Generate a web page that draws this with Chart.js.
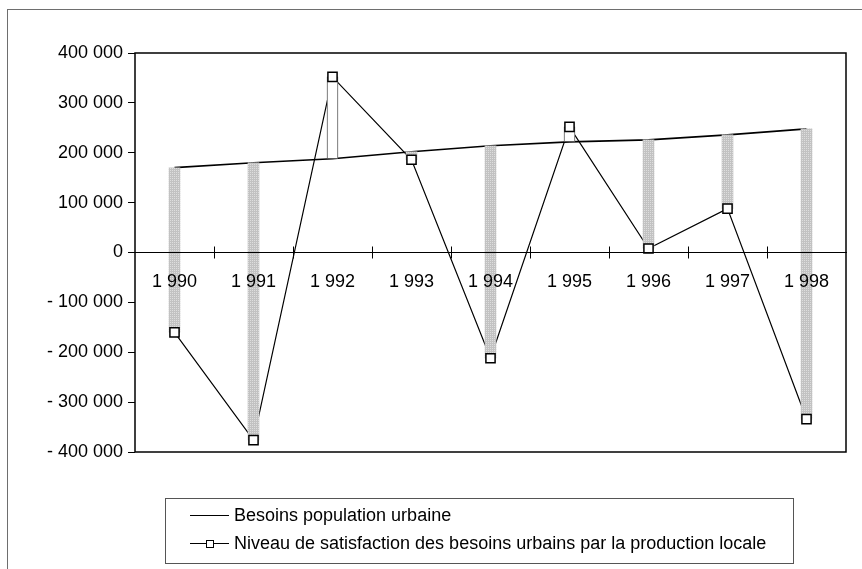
<!DOCTYPE html>
<html>
<head>
<meta charset="utf-8">
<script src="https://cdn.jsdelivr.net/npm/chart.js@4"></script>
<style>
    body { margin: 0; background: #fff; font-family: "Liberation Sans", Arial, sans-serif; }
    #frame { position: absolute; left: 7px; top: 9px; width: 900px; height: 600px;
             border-left: 1px solid #6e6e6e; border-top: 1px solid #6e6e6e; }
    #wrap { position: absolute; left: 0; top: 0; width: 862px; height: 569px; }
    #legend { position: absolute; left: 165px; top: 498px; width: 627px; height: 64px;
              border: 1px solid #555; font-size: 18px; color: #000; }
    .row { position: absolute; left: 24px; height: 20px; line-height: 20px; white-space: nowrap; }
    .sym { position: absolute; left: 0; top: 10px; width: 39px; border-top: 1.5px solid #000; }
    .sq { position: absolute; left: 16px; top: -4px; width: 6px; height: 6px; background: #fff; border: 1px solid #000; }
    .txt { position: absolute; left: 44px; top: 0; }
</style>
</head>
<body>
<div id="frame"></div>
<div id="wrap"><canvas id="chart"></canvas></div>
<div id="legend">
    <div class="row" style="top:6px"><span class="sym"></span><span class="txt">Besoins population urbaine</span></div>
    <div class="row" style="top:34px"><span class="sym"><span class="sq"></span></span><span class="txt">Niveau de satisfaction des besoins urbains par la production locale</span></div>
</div>
<script>
// categories (years as printed on the axis)
const years = ['1 990', '1 991', '1 992', '1 993', '1 994', '1 995', '1 996', '1 997', '1 998'];
// Besoins population urbaine
const besoins = [170000, 180000, 188000, 202000, 214000, 222000, 226000, 236000, 248000];
// Niveau de satisfaction des besoins urbains par la production locale
const niveau = [-160000, -376000, 352000, 186000, -212000, 252000, 8000, 88000, -334000];
// y axis range
const yMin = -400000;
const yMax = 400000;
const yStep = 100000;

function fmt(v) {
    const s = Math.abs(v).toString().replace(/\B(?=(\d{3})+(?!\d))/g, ' ');
    return v < 0 ? '- ' + s : s;
}

document.addEventListener('DOMContentLoaded', function() {
    const ctx = document.getElementById('chart').getContext('2d');

    // dotted grey fill like the Excel down bars
    const pc = document.createElement('canvas');
    pc.width = 2; pc.height = 2;
    const pctx = pc.getContext('2d');
    pctx.fillStyle = '#c2c2c2';
    pctx.fillRect(0, 0, 2, 2);
    pctx.fillStyle = '#dedede';
    pctx.fillRect(0, 0, 1, 1);
    const grayFill = ctx.createPattern(pc, 'repeat');

    // up-down bars between the two series
    const ranges = besoins.map((b, i) => [b, niveau[i]]);
    const isUp = besoins.map((b, i) => niveau[i] > b);

    // frame round the plot + tick marks crossing the zero axis
    const framePlugin = {
        id: 'frame',
        afterDraw(chart) {
            const { ctx, chartArea, scales: { x, y } } = chart;
            ctx.save();
            ctx.strokeStyle = '#000';
            ctx.lineWidth = 1.5;
            ctx.strokeRect(chartArea.left, chartArea.top, chartArea.right - chartArea.left, chartArea.bottom - chartArea.top);
            const y0 = y.getPixelForValue(0);
            ctx.lineWidth = 1;
            ctx.beginPath();
            for (let i = 1; i < years.length; i++) {
                const px = Math.round((x.getPixelForValue(i - 1) + x.getPixelForValue(i)) / 2) + 0.5;
                ctx.moveTo(px, y0 - 6);
                ctx.lineTo(px, y0 + 6);
            }
            ctx.stroke();
            ctx.restore();
        }
    };

    new Chart(ctx, {
        type: 'bar',
        data: {
            labels: years,
            datasets: [
                {
                    type: 'line',
                    label: 'Besoins population urbaine',
                    data: besoins,
                    borderColor: '#000',
                    borderWidth: 1.7,
                    pointRadius: 0,
                    tension: 0,
                    order: 3
                },
                {
                    type: 'line',
                    label: 'Niveau de satisfaction des besoins urbains par la production locale',
                    data: niveau,
                    borderColor: '#000',
                    borderWidth: 1.2,
                    pointRadius: 0,
                    tension: 0,
                    order: 2
                },
                {
                    type: 'bar',
                    label: 'ecart',
                    data: ranges,
                    backgroundColor: isUp.map(u => u ? '#fff' : grayFill),
                    borderColor: '#555',
                    borderWidth: isUp.map(u => u ? 1 : 0),
                    borderSkipped: false,
                    barThickness: 11,
                    order: 1
                },
                {
                    type: 'line',
                    label: 'markers',
                    data: niveau,
                    showLine: false,
                    pointStyle: 'rect',
                    pointRadius: 6.5,
                    pointBackgroundColor: '#fff',
                    pointBorderColor: '#000',
                    pointBorderWidth: 1.5,
                    order: 0
                }
            ]
        },
        options: {
            responsive: true,
            maintainAspectRatio: false,
            animation: false,
            layout: {
                padding: { left: 0, top: 53, right: 16, bottom: 117 }
            },
            plugins: {
                legend: { display: false },
                tooltip: { enabled: false }
            },
            scales: {
                x: {
                    position: { y: 0 },
                    offset: true,
                    grid: { display: false, offset: true },
                    border: { display: true, color: '#000', width: 1, z: 1 },
                    ticks: {
                        z: 1,
                        color: '#000',
                        padding: 11,
                        maxRotation: 0,
                        font: { family: '"Liberation Sans", Arial', size: 18 }
                    },
                    afterFit(scale) { scale.height = 0; }
                },
                y: {
                    min: yMin,
                    max: yMax,
                    grid: { drawOnChartArea: false, drawTicks: true, tickLength: 7, color: '#000' },
                    border: { display: false },
                    ticks: {
                        stepSize: yStep,
                        color: '#000',
                        padding: 5,
                        font: { family: '"Liberation Sans", Arial', size: 18 },
                        callback: v => fmt(v)
                    },
                    afterFit(scale) { scale.width = 135; }
                }
            }
        },
        plugins: [framePlugin]
    });
});
</script>
</body>
</html>
